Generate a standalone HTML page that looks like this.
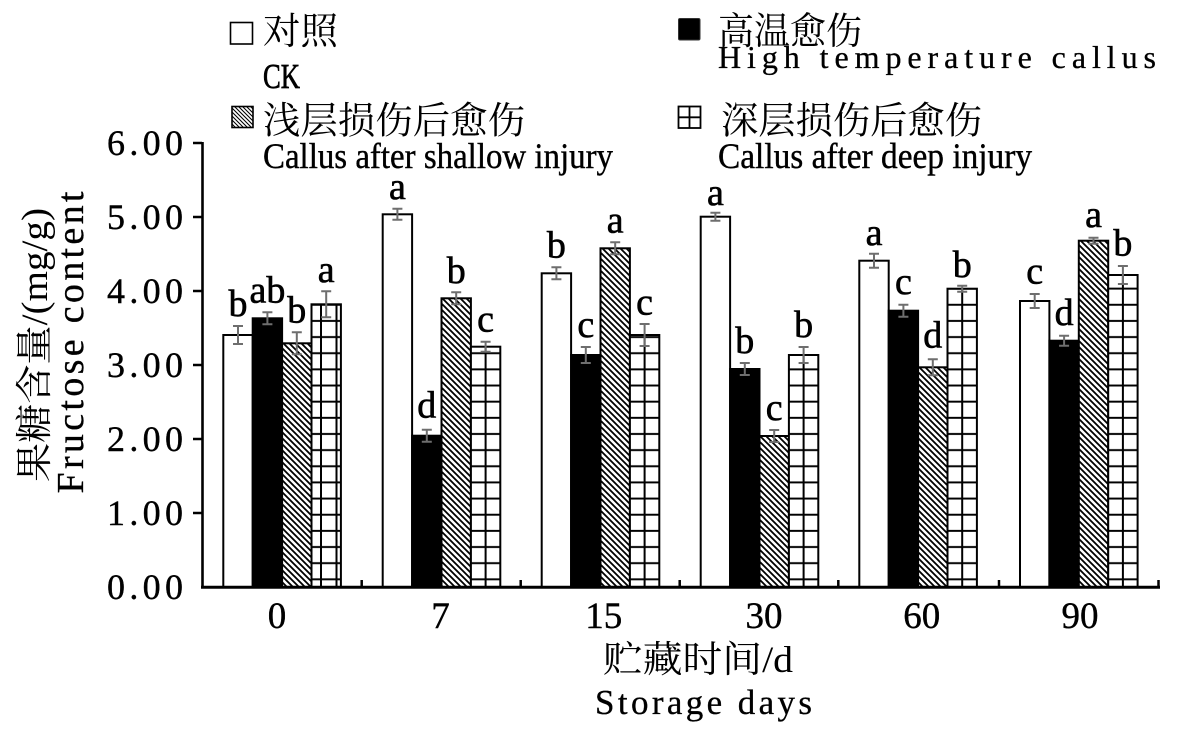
<!DOCTYPE html>
<html><head><meta charset="utf-8"><style>
html,body{margin:0;padding:0;background:#fff;}
svg{display:block;}
</style></head><body>
<svg width="1181" height="734" viewBox="0 0 1181 734" xmlns="http://www.w3.org/2000/svg">
<defs>
<pattern id="hatch" patternUnits="userSpaceOnUse" width="6" height="6">
<rect width="6" height="6" fill="#fff"/>
<path d="M-1,-1 L7,7 M-1,5 L1,7 M5,-1 L7,1" stroke="#000" stroke-width="1.8"/>
</pattern>
<pattern id="hatchS" patternUnits="userSpaceOnUse" width="4" height="4">
<rect width="4" height="4" fill="#fff"/>
<path d="M-1,-1 L5,5 M-1,3 L1,5 M3,-1 L5,1" stroke="#000" stroke-width="1.1"/>
</pattern>
<pattern id="grid" patternUnits="userSpaceOnUse" width="1200" height="16.15">
<rect width="1200" height="16.15" fill="#fff"/>
<line x1="0" y1="14.05" x2="1200" y2="14.05" stroke="#000" stroke-width="2"/>
</pattern>
</defs>
<rect width="1181" height="734" fill="#fff"/>

<!-- Legend -->
<rect x="230.5" y="22.5" width="22" height="21.5" fill="#fff" stroke="#000" stroke-width="1.6"/>
<text x="263" y="44" font-family="'Noto Serif CJK SC','Liberation Serif',serif" font-size="37.5">对照</text>
<text x="263" y="88" font-family="'Liberation Serif',serif" font-size="35" stroke="#000" stroke-width="0.7" textLength="37" lengthAdjust="spacingAndGlyphs">CK</text>
<rect x="232" y="106.5" width="21" height="21" fill="url(#hatchS)" stroke="#000" stroke-width="1.6"/>
<text x="263" y="133.7" font-family="'Noto Serif CJK SC','Liberation Serif',serif" font-size="37.5" textLength="262" lengthAdjust="spacingAndGlyphs">浅层损伤后愈伤</text>
<text x="263" y="168" font-family="'Liberation Serif',serif" font-size="36" stroke="#000" stroke-width="0.4" textLength="350" lengthAdjust="spacingAndGlyphs">Callus after shallow injury</text>

<rect x="678.5" y="18.5" width="21.5" height="21.5" rx="1.5" fill="#000" stroke="#333" stroke-width="1"/>
<text x="718" y="44" font-family="'Noto Serif CJK SC','Liberation Serif',serif" font-size="37.5" textLength="144" lengthAdjust="spacingAndGlyphs">高温愈伤</text>
<text x="718" y="68" font-family="'Liberation Serif',serif" font-size="32" stroke="#000" stroke-width="0.3" textLength="438" lengthAdjust="spacing">High temperature callus</text>
<rect x="678.5" y="106.5" width="22" height="21.5" fill="#fff" stroke="#000" stroke-width="1.8"/>
<line x1="689.5" y1="106.5" x2="689.5" y2="128" stroke="#000" stroke-width="1.8"/>
<line x1="678.5" y1="117.3" x2="700.5" y2="117.3" stroke="#000" stroke-width="1.8"/>
<text x="721" y="133.7" font-family="'Noto Serif CJK SC','Liberation Serif',serif" font-size="37.5" textLength="261" lengthAdjust="spacingAndGlyphs">深层损伤后愈伤</text>
<text x="718" y="168" font-family="'Liberation Serif',serif" font-size="36" stroke="#000" stroke-width="0.4" textLength="314" lengthAdjust="spacingAndGlyphs">Callus after deep injury</text>

<!-- Bars -->
<g stroke="#000" stroke-width="2">
<rect x="223.3" y="335" width="29.4" height="252" fill="#fff"/>
<rect x="252.7" y="318.3" width="29.4" height="268.7" fill="#000"/>
<rect x="282.1" y="343.3" width="29.4" height="243.7" fill="url(#hatch)"/>
<rect x="311.5" y="304.3" width="29.4" height="282.7" fill="url(#grid)"/>
<rect x="382.7" y="214.3" width="29.4" height="372.7" fill="#fff"/>
<rect x="412.1" y="435.7" width="29.4" height="151.3" fill="#000"/>
<rect x="441.5" y="298.3" width="29.4" height="288.7" fill="url(#hatch)"/>
<rect x="470.9" y="346.7" width="29.4" height="240.3" fill="url(#grid)"/>
<rect x="541.7" y="273.3" width="29.4" height="313.7" fill="#fff"/>
<rect x="571.1" y="355" width="29.4" height="232" fill="#000"/>
<rect x="600.5" y="248.3" width="29.4" height="338.7" fill="url(#hatch)"/>
<rect x="629.9" y="335" width="29.4" height="252" fill="url(#grid)"/>
<rect x="700.7" y="216.7" width="29.4" height="370.3" fill="#fff"/>
<rect x="730.1" y="369" width="29.4" height="218" fill="#000"/>
<rect x="759.5" y="436" width="29.4" height="151" fill="url(#hatch)"/>
<rect x="788.9" y="355" width="29.4" height="232" fill="url(#grid)"/>
<rect x="859.3" y="260.7" width="29.4" height="326.3" fill="#fff"/>
<rect x="888.7" y="310.7" width="29.4" height="276.3" fill="#000"/>
<rect x="918.1" y="367.3" width="29.4" height="219.7" fill="url(#hatch)"/>
<rect x="947.5" y="288.7" width="29.4" height="298.3" fill="url(#grid)"/>
<rect x="1020" y="301" width="29.4" height="286" fill="#fff"/>
<rect x="1049.4" y="340.7" width="29.4" height="246.3" fill="#000"/>
<rect x="1078.8" y="240.7" width="29.4" height="346.3" fill="url(#hatch)"/>
<rect x="1108.2" y="275" width="29.4" height="312" fill="url(#grid)"/>
</g>
<g stroke="#000" stroke-width="2">
<line x1="321" y1="304.3" x2="321" y2="587"/>
<line x1="336.5" y1="304.3" x2="336.5" y2="587"/>
<line x1="485.6" y1="346.7" x2="485.6" y2="587"/>
<line x1="644.6" y1="335" x2="644.6" y2="587"/>
<line x1="803.6" y1="355" x2="803.6" y2="587"/>
<line x1="962.2" y1="288.7" x2="962.2" y2="587"/>
<line x1="1122.9" y1="275" x2="1122.9" y2="587"/>
</g>

<!-- Error bars -->
<g stroke="#6e6e6e" stroke-width="2" fill="none">
<path d="M238,326V344M233,326H243M233,344H243"/>
<path d="M267.4,312.3V324.3M262.4,312.3H272.4M262.4,324.3H272.4"/>
<path d="M296.8,332.3V354.3M291.8,332.3H301.8M291.8,354.3H301.8"/>
<path d="M326.2,291.3V317.3M321.2,291.3H331.2M321.2,317.3H331.2"/>
<path d="M397.4,208.8V219.8M392.4,208.8H402.4M392.4,219.8H402.4"/>
<path d="M426.8,429.7V441.7M421.8,429.7H431.8M421.8,441.7H431.8"/>
<path d="M456.2,292.3V304.3M451.2,292.3H461.2M451.2,304.3H461.2"/>
<path d="M485.6,341.7V351.7M480.6,341.7H490.6M480.6,351.7H490.6"/>
<path d="M556.4,267.3V279.3M551.4,267.3H561.4M551.4,279.3H561.4"/>
<path d="M585.8,347V363M580.8,347H590.8M580.8,363H590.8"/>
<path d="M615.2,242.3V254.3M610.2,242.3H620.2M610.2,254.3H620.2"/>
<path d="M644.6,324V346M639.6,324H649.6M639.6,346H649.6"/>
<path d="M715.4,212.7V220.7M710.4,212.7H720.4M710.4,220.7H720.4"/>
<path d="M744.8,363V375M739.8,363H749.8M739.8,375H749.8"/>
<path d="M774.2,430V442M769.2,430H779.2M769.2,442H779.2"/>
<path d="M803.6,347V363M798.6,347H808.6M798.6,363H808.6"/>
<path d="M874,253.7V267.7M869,253.7H879M869,267.7H879"/>
<path d="M903.4,304.7V316.7M898.4,304.7H908.4M898.4,316.7H908.4"/>
<path d="M932.8,359.3V375.3M927.8,359.3H937.8M927.8,375.3H937.8"/>
<path d="M962.2,285.7V291.7M957.2,285.7H967.2M957.2,291.7H967.2"/>
<path d="M1034.7,294V308M1029.7,294H1039.7M1029.7,308H1039.7"/>
<path d="M1064.1,335.7V345.7M1059.1,335.7H1069.1M1059.1,345.7H1069.1"/>
<path d="M1093.5,237.7V243.7M1088.5,237.7H1098.5M1088.5,243.7H1098.5"/>
<path d="M1122.9,266V284M1117.9,266H1127.9M1117.9,284H1127.9"/>
</g>

<!-- Significance letters -->
<g font-family="'Liberation Serif',serif" font-size="38" text-anchor="middle" fill="#000" stroke="#000" stroke-width="0.6">
<text x="238" y="316">b</text>
<text x="267.4" y="302.3">ab</text>
<text x="296.8" y="322.3">b</text>
<text x="326.2" y="282">a</text>
<text x="397.4" y="199">a</text>
<text x="426.8" y="417.5">d</text>
<text x="456.2" y="283">b</text>
<text x="485.6" y="331.7">c</text>
<text x="556.4" y="257.3">b</text>
<text x="585.8" y="337">c</text>
<text x="615.2" y="232.3">a</text>
<text x="644.6" y="314.5">c</text>
<text x="715.4" y="205">a</text>
<text x="744.8" y="353">b</text>
<text x="774.2" y="420">c</text>
<text x="803.6" y="337">b</text>
<text x="874" y="245">a</text>
<text x="903.4" y="294">c</text>
<text x="932.8" y="347.5">d</text>
<text x="962.2" y="277">b</text>
<text x="1034.7" y="283.5">c</text>
<text x="1064.1" y="325">d</text>
<text x="1093.5" y="227">a</text>
<text x="1122.9" y="255.5">b</text>
</g>

<!-- Axes -->
<g stroke="#000">
<line x1="202.5" y1="142" x2="202.5" y2="588.5" stroke-width="2.6"/>
<line x1="201" y1="587.3" x2="1160" y2="587.3" stroke-width="3"/>
<g stroke-width="2.5">
<line x1="193" y1="143" x2="202" y2="143"/>
<line x1="193" y1="217" x2="202" y2="217"/>
<line x1="193" y1="291" x2="202" y2="291"/>
<line x1="193" y1="365" x2="202" y2="365"/>
<line x1="193" y1="439" x2="202" y2="439"/>
<line x1="193" y1="513" x2="202" y2="513"/>
<line x1="361.7" y1="580" x2="361.7" y2="587"/>
<line x1="520.7" y1="580" x2="520.7" y2="587"/>
<line x1="679.7" y1="580" x2="679.7" y2="587"/>
<line x1="838.3" y1="580" x2="838.3" y2="587"/>
<line x1="999" y1="580" x2="999" y2="587"/>
<line x1="1158.5" y1="580" x2="1158.5" y2="587"/>
</g>
</g>

<!-- Y tick labels -->
<g font-family="'Liberation Serif',serif" font-size="36" fill="#000" stroke="#000" stroke-width="0.4">
<text x="107" y="155" textLength="76" lengthAdjust="spacing">6.00</text>
<text x="107" y="229" textLength="76" lengthAdjust="spacing">5.00</text>
<text x="107" y="303" textLength="76" lengthAdjust="spacing">4.00</text>
<text x="107" y="377" textLength="76" lengthAdjust="spacing">3.00</text>
<text x="107" y="451" textLength="76" lengthAdjust="spacing">2.00</text>
<text x="107" y="525" textLength="76" lengthAdjust="spacing">1.00</text>
<text x="107" y="599" textLength="76" lengthAdjust="spacing">0.00</text>
</g>

<!-- X tick labels -->
<g font-family="'Liberation Serif',serif" font-size="37" fill="#000" text-anchor="middle" stroke="#000" stroke-width="0.4">
<text x="277" y="628">0</text>
<text x="440.5" y="628">7</text>
<text x="603.7" y="628">15</text>
<text x="764" y="628">30</text>
<text x="921.7" y="628">60</text>
<text x="1080" y="628">90</text>
</g>

<!-- Axis titles -->
<text x="603" y="672" font-family="'Liberation Serif','Noto Serif CJK SC',serif" font-size="37" textLength="190" lengthAdjust="spacingAndGlyphs">贮藏时间/d</text>
<text x="595" y="714" font-family="'Liberation Serif',serif" font-size="35" stroke="#000" stroke-width="0.3" textLength="217" lengthAdjust="spacing">Storage days</text>

<text transform="translate(47,345) rotate(-90)" text-anchor="middle" font-family="'Liberation Serif','Noto Serif CJK SC',serif" font-size="37" textLength="274" lengthAdjust="spacingAndGlyphs">果糖含量/(mg/g)</text>
<text transform="translate(83,342.5) rotate(-90)" text-anchor="middle" font-family="'Liberation Serif',serif" font-size="38" stroke="#000" stroke-width="0.3" textLength="302" lengthAdjust="spacing">Fructose content</text>
</svg>
</body></html>
